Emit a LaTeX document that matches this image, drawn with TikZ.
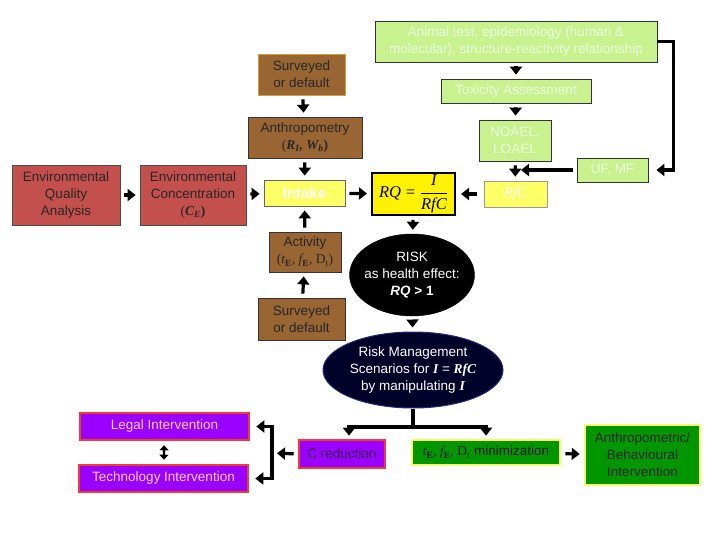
\documentclass[tikz,border=0pt]{standalone}
\usepackage{fontspec}
\setmainfont{Liberation Sans}
\newfontfamily\tnr{Liberation Serif}
\usetikzlibrary{arrows.meta,shapes.geometric}
\definecolor{lgreen}{RGB}{200,242,142}
\definecolor{gtext}{RGB}{236,252,226}
\definecolor{brown1}{RGB}{153,102,51}
\definecolor{tan1}{RGB}{204,160,60}
\definecolor{red1}{RGB}{196,80,77}
\definecolor{yel1}{RGB}{255,255,102}
\definecolor{pur1}{RGB}{153,0,255}
\definecolor{red2}{RGB}{240,60,50}
\definecolor{grn1}{RGB}{0,150,0}
\definecolor{yel2}{RGB}{250,250,110}
\definecolor{navy1}{RGB}{0,0,40}
\definecolor{navyb}{RGB}{40,40,120}
\definecolor{ptext}{RGB}{255,205,255}
\definecolor{dpur}{RGB}{60,0,90}
\begin{document}
\begin{tikzpicture}[x=1pt,y=-1pt,font=\fontsize{13.5}{17}\selectfont,
  sz/.style 2 args={minimum width=#1pt,minimum height=#2pt},
  base/.style={rectangle,align=center,inner sep=1pt,line width=0.8pt},
  greenbox/.style={base,fill=lgreen,draw=black!80,text=gtext},
  brownbox/.style={base,fill=brown1,draw=black!80,text=black!85},
  redbox/.style={base,fill=red1,draw=black!70,text=black!85},
  ybox/.style={base,fill=yel1,draw=black!60,text=white},
  purbox/.style={base,fill=pur1,draw=red2,line width=2.6pt},
  grnbox/.style={base,fill=grn1,draw=yel2,line width=2.6pt},
  arr/.style={line width=3.2pt,-{Triangle[length=8pt,width=12pt]},shorten >=4pt,shorten <=4pt},
  lin/.style={line width=3.2pt},
  dbl/.style={line width=2.4pt,{Triangle[length=5pt,width=9pt]}-{Triangle[length=5pt,width=9pt]},shorten >=4pt,shorten <=4pt}]
\useasboundingbox (0,0) rectangle (720,540);
\fill[white] (0,0) rectangle (720,540);

% top chain
\node[greenbox,sz={282}{41}] (animal) at (516,41.5) {Animal test, epidemiology (human \&\\molecular), structure-reactivity relationship};
\node[brownbox,draw=tan1,sz={87}{41}] (surv1) at (301.5,74.5) {Surveyed\\or default};
\node[greenbox,sz={150}{24}] (tox) at (516,91) {Toxicity Assessment};
\node[brownbox,sz={114}{41}] (anthro) at (305,137.5) {Anthropometry\\{\tnr(\bfseries\itshape R\textsubscript{I}, W\textsubscript{b}\upshape)}};
\node[greenbox,sz={72}{41}] (noael) at (515,140.5) {NOAEL,\\LOAEL};
\node[greenbox,sz={71}{24}] (ufmf) at (612.5,170) {UF, MF};

% middle row
\node[redbox,sz={108}{60}] (eqa) at (66,195) {Environmental\\Quality\\Analysis};
\node[redbox,sz={106}{60}] (ec) at (193,195) {Environmental\\Concentration\\{\tnr(\bfseries\itshape C\textsubscript{E}\upshape)}};
\node[ybox,sz={81}{26},font=\fontsize{15}{17}\selectfont\bfseries] (intake) at (304.5,193) {Intake};
\node[base,fill=yellow,draw=black,line width=2pt,sz={83}{42},inner sep=0pt] (rq) at (413.5,194) {\tnr\fontsize{16.5}{18}\selectfont $\displaystyle\hbox{\itshape RQ\/}\;\hbox{=}\;\frac{\hbox{\itshape I}}{\hbox{\itshape RfC}}$};
\node[ybox,sz={63}{26},draw=black!40,font=\fontsize{15}{17}\selectfont] (rfc) at (515.5,194) {\tnr\itshape RfC};

\node[brownbox,sz={72}{40}] (act) at (305,252) {Activity\\{\tnr(\itshape t\textsubscript{\bfseries\upshape E}, f\textsubscript{\bfseries\upshape E}, \upshape D\textsubscript{t})}};
\node[ellipse,fill=black,draw=black,sz={125}{82},inner sep=0pt] (risk) at (412,275) {};
\node[align=center,text=white] (risktxt) at (risk.center) {RISK\\as health effect:\\\textbf{\textit{RQ} > 1}};
\node[brownbox,sz={87}{42}] (surv2) at (301.5,319) {Surveyed\\or default};

\node[ellipse,fill=navy1,draw=navyb,line width=1pt,sz={180}{76},inner sep=0pt] (rm) at (413,370) {};
\node[align=center,text=white] (rmtxt) at (rm.center) {Risk Management\\Scenarios for {\tnr\bfseries\itshape I} = {\tnr\bfseries\itshape RfC}\\by manipulating {\tnr\bfseries\itshape I}};

% bottom row
\node[purbox,sz={169}{27},text=ptext] (legal) at (164.5,426.5) {Legal Intervention};
\node[purbox,sz={169}{27},text=ptext] (tech) at (163.5,478.5) {Technology Intervention};
\node[purbox,sz={86}{28},text=dpur] (cred) at (342,454) {C reduction};
\node[grnbox,sz={148}{25},text=black!90] (tmin) at (486,452.5) {{\tnr\itshape t\textsubscript{\bfseries\upshape E}, f\textsubscript{\bfseries\upshape E}, \upshape D\textsubscript{t}} minimization};
\node[grnbox,sz={115}{60},text=black!85] (anthint) at (642.5,455) {Anthropometric/\\Behavioural\\Intervention};

\coordinate (ufin) at (521,170);
\coordinate (rmj) at (413,427);
\coordinate (bx) at (272,453);

% connectors
\draw[arr] (animal) -- (tox);
\draw[arr] (tox) -- (noael);
\draw[arr] (noael) -- (rfc);
\draw[arr,shorten >=0pt] (ufmf.west) -- (ufin);
\draw[arr,shorten >=8pt,shorten <=0pt] (animal.east) -- ++(16,0) |- (ufmf.east);
\draw[arr,shorten <=7pt,shorten >=5pt] (rfc) -- (rq);
\draw[arr] (surv1) -- (anthro);
\draw[arr] (anthro) -- (intake);
\draw[arr] (eqa) -- (ec);
\draw[arr] (ec) -- (intake);
\draw[arr] (intake) -- (rq);
\draw[arr] (act) -- (intake);
\draw[arr] (surv2) -- (act);
\draw[arr] (rq) -- (risk);
\draw[arr] (risk) -- (rm);
\draw[lin] (rm.south) -- (rmj);
\draw[arr,shorten <=0pt,shorten >=3pt] (rmj) -| ([xshift=7pt]cred.north);
\draw[arr,shorten <=0pt,shorten >=3pt] (rmj) -| (tmin.north);
\draw[arr,shorten >=5pt] (cred.west) -- (bx);
\draw[line width=3.2pt,{Triangle[length=8pt,width=12pt]}-{Triangle[length=8pt,width=12pt]},shorten >=6pt,shorten <=6pt] (legal.east) -| (bx) |- (tech.east);
\draw[dbl] (legal) -- (tech);
\draw[arr] (tmin) -- (anthint);
\end{tikzpicture}
\end{document}
